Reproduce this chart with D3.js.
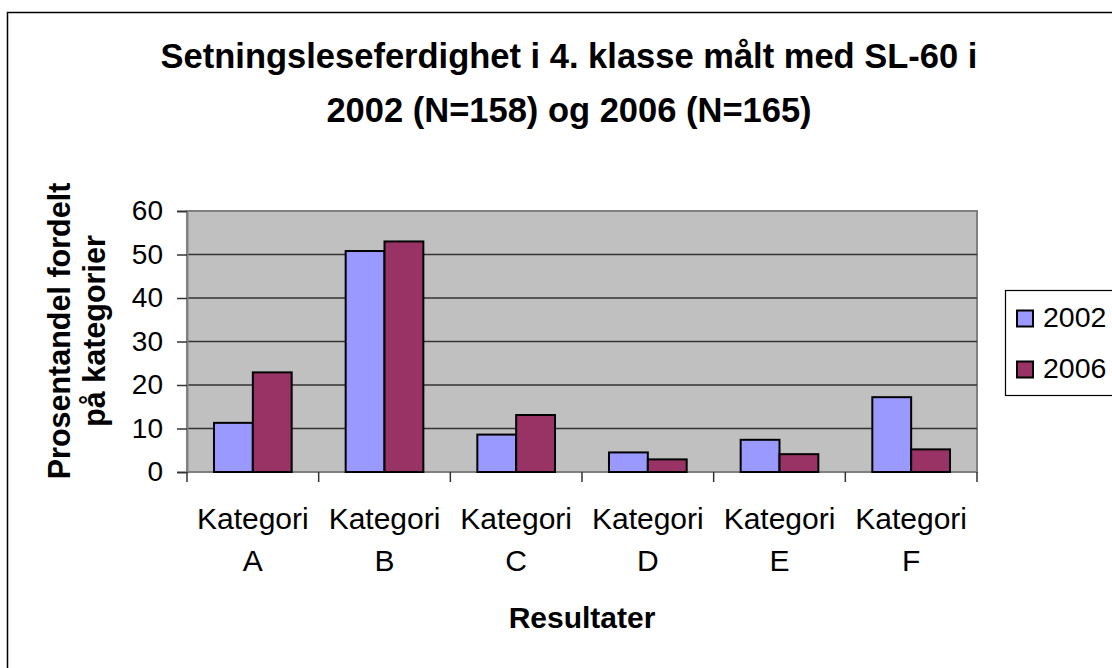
<!DOCTYPE html>
<html>
<head>
<meta charset="utf-8">
<title>Setningsleseferdighet</title>
<script src="https://cdn.jsdelivr.net/npm/d3@7"></script>
<style>
  body { margin: 0; background: #fff; }
  text { font-family: "Liberation Sans", Arial, sans-serif; fill: #000; }
</style>
</head>
<body>
<div id="chart"></div>
<script>
// data
var kategorier = ["A", "B", "C", "D", "E", "F"];
var aar = ["2002", "2006"];
var verdier2002 = [11.3, 50.8, 8.6, 4.5, 7.4, 17.2];
var verdier2006 = [22.9, 53.0, 13.1, 2.9, 4.1, 5.2];
var yTicks = [0, 10, 20, 30, 40, 50, 60];
var farger = ["#9999ff", "#993366"];

var width = 1112, height = 668;
var plot = { left: 187, right: 977, top: 211, bottom: 472 };

var svg = d3.select("#chart").append("svg")
    .attr("width", width)
    .attr("height", height);

// outer chart border (runs off the right / bottom edge)
svg.append("rect")
    .attr("x", 7.5).attr("y", 12.5)
    .attr("width", 1130).attr("height", 680)
    .attr("fill", "#fff")
    .attr("stroke", "#000").attr("stroke-width", 1.5);

// title
var tittel = svg.append("text")
    .attr("text-anchor", "middle")
    .style("font-weight", "bold")
    .style("font-size", "34.5px");
tittel.append("tspan").attr("x", 569).attr("y", 68)
    .text("Setningsleseferdighet i 4. klasse målt med SL-60 i");
tittel.append("tspan").attr("x", 569).attr("y", 122)
    .text("2002 (N=158) og 2006 (N=165)");

var x = d3.scaleBand()
    .domain(kategorier)
    .range([plot.left, plot.right])
    .paddingInner(0.41)
    .paddingOuter(0.205);

var x1 = d3.scaleBand()
    .domain(aar)
    .range([0, x.bandwidth()]);

var y = d3.scaleLinear()
    .domain([0, 60])
    .range([plot.bottom, plot.top]);

// plot area
svg.append("rect")
    .attr("x", plot.left).attr("y", plot.top)
    .attr("width", plot.right - plot.left)
    .attr("height", plot.bottom - plot.top)
    .attr("fill", "#c0c0c0")
    .attr("stroke", "#808080").attr("stroke-width", 2);

// gridlines
svg.append("g").selectAll("line")
    .data(yTicks.filter(function (d) { return d > 0 && d < 60; }))
    .enter().append("line")
    .attr("x1", plot.left).attr("x2", plot.right)
    .attr("y1", function (d) { return y(d); })
    .attr("y2", function (d) { return y(d); })
    .attr("stroke", "#333").attr("stroke-width", 1.5);

// y axis
var yAxis = svg.append("g")
    .attr("transform", "translate(" + plot.left + ",0)")
    .call(d3.axisLeft(y).tickValues(yTicks).tickSize(10).tickPadding(14));
yAxis.select(".domain").attr("stroke", "#808080").attr("stroke-width", 2);
yAxis.selectAll(".tick line").attr("stroke", "#333").attr("stroke-width", 1.5);
yAxis.selectAll(".tick text")
    .style("font-family", "'Liberation Sans', Arial, sans-serif")
    .style("font-size", "28px")
    .attr("fill", "#000");

// x axis baseline + category separator ticks
var steg = x.step();
svg.append("line")
    .attr("x1", plot.left).attr("x2", plot.right)
    .attr("y1", plot.bottom).attr("y2", plot.bottom)
    .attr("stroke", "#808080").attr("stroke-width", 2);
svg.append("g").selectAll("line")
    .data(d3.range(kategorier.length + 1))
    .enter().append("line")
    .attr("x1", function (i) { return plot.left + i * steg; })
    .attr("x2", function (i) { return plot.left + i * steg; })
    .attr("y1", plot.bottom).attr("y2", plot.bottom + 10)
    .attr("stroke", "#333").attr("stroke-width", 1.5);

// bars
var rader = kategorier.map(function (k, i) {
    return { kat: k, verdier: [
        { aar: aar[0], v: verdier2002[i] },
        { aar: aar[1], v: verdier2006[i] }
    ] };
});

var grupper = svg.append("g").selectAll("g")
    .data(rader)
    .enter().append("g")
    .attr("transform", function (d) { return "translate(" + x(d.kat) + ",0)"; });

grupper.selectAll("rect")
    .data(function (d) { return d.verdier; })
    .enter().append("rect")
    .attr("x", function (d) { return x1(d.aar); })
    .attr("y", function (d) { return y(d.v); })
    .attr("width", x1.bandwidth())
    .attr("height", function (d) { return y(0) - y(d.v); })
    .attr("fill", function (d, i) { return farger[i]; })
    .attr("stroke", "#000").attr("stroke-width", 2);

// category labels
var katTekst = svg.append("g").selectAll("text")
    .data(kategorier)
    .enter().append("text")
    .attr("text-anchor", "middle")
    .style("font-size", "30px");
katTekst.append("tspan")
    .attr("x", function (d) { return x(d) + x.bandwidth() / 2; })
    .attr("y", 529)
    .text("Kategori");
katTekst.append("tspan")
    .attr("x", function (d) { return x(d) + x.bandwidth() / 2; })
    .attr("y", 571)
    .text(function (d) { return d; });

// axis titles
svg.append("text")
    .attr("x", 582).attr("y", 628)
    .attr("text-anchor", "middle")
    .style("font-weight", "bold")
    .style("font-size", "30px")
    .text("Resultater");

var yTittel = svg.append("text")
    .attr("transform", "translate(0,331) rotate(-90)")
    .attr("text-anchor", "middle")
    .style("font-weight", "bold")
    .style("font-size", "30.5px");
yTittel.append("tspan").attr("x", 0).attr("y", 70).text("Prosentandel fordelt");
yTittel.append("tspan").attr("x", 0).attr("y", 105).text("på kategorier");

// legend (box runs off the right edge)
var legende = svg.append("g");
legende.append("rect")
    .attr("x", 1005.5).attr("y", 290.5)
    .attr("width", 140).attr("height", 105)
    .attr("fill", "#fff")
    .attr("stroke", "#000").attr("stroke-width", 1.2);

var rad = legende.selectAll("g")
    .data(aar)
    .enter().append("g")
    .attr("transform", function (d, i) { return "translate(0," + (i * 51) + ")"; });
rad.append("rect")
    .attr("x", 1017).attr("y", 310.5)
    .attr("width", 16).attr("height", 16)
    .attr("fill", function (d, i) { return farger[i]; })
    .attr("stroke", "#000").attr("stroke-width", 2);
rad.append("text")
    .attr("x", 1043).attr("y", 327)
    .style("font-size", "28.5px")
    .text(function (d) { return d; });
</script>
</body>
</html>
